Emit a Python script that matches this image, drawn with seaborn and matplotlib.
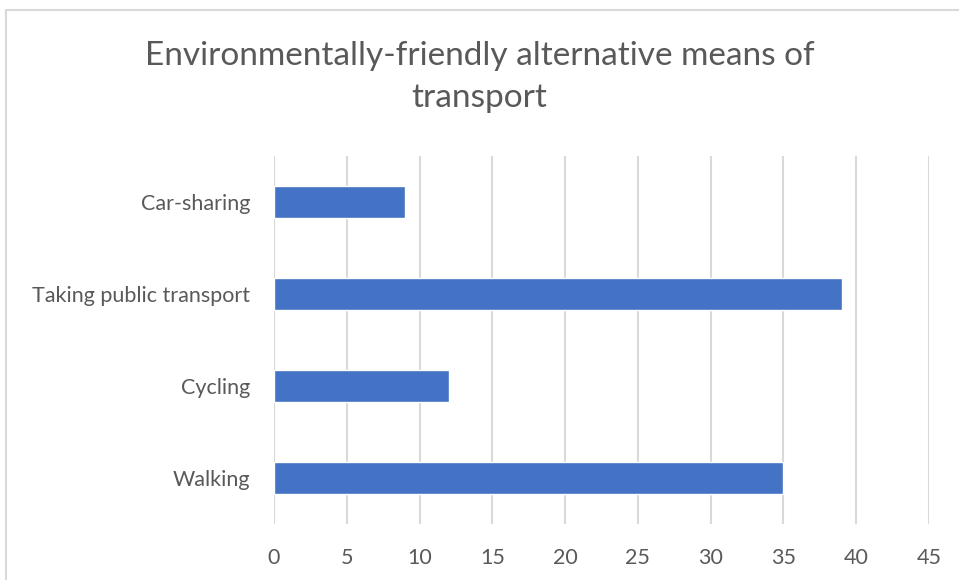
import numpy as np
import pandas as pd
import seaborn as sns
import matplotlib.pyplot as plt
from matplotlib.patches import Rectangle

# chart data
CATEGORIES = ["Car-sharing", "Taking public transport", "Cycling", "Walking"]
VALUES = [9, 39, 12, 35]
X_TICKS = [0, 5, 10, 15, 20, 25, 30, 35, 40, 45]

TITLE = "Environmentally-friendly alternative means of\ntransport"
C_BAR = "#4472C4"
C_GRID = "#D9D9D9"
C_TEXT = "#595959"


def main():
    df = pd.DataFrame({"Category": CATEGORIES, "Value": VALUES})

    sns.set_theme(style="white")
    plt.rcParams["font.family"] = ["Lato", "DejaVu Sans"]

    fig = plt.figure(figsize=(9.59, 5.80), dpi=100)
    ax = fig.add_axes([0.2857, 0.0966, 0.683, 0.6344])

    sns.barplot(
        data=df,
        x="Value",
        y="Category",
        order=CATEGORIES,
        orient="h",
        color=C_BAR,
        saturation=1,
        width=0.34,
        ax=ax,
        zorder=3,
    )

    ax.set_xlim(0, 45)
    ax.set_ylim(len(CATEGORIES) - 0.5, -0.5)
    ax.set_xticks(X_TICKS)
    ax.set_xticklabels([str(t) for t in X_TICKS])
    ax.xaxis.grid(True, color=C_GRID, linewidth=1.5, zorder=0)
    ax.yaxis.grid(False)
    ax.set_axisbelow(True)
    for s in ax.spines.values():
        s.set_visible(False)

    ax.set_xlabel("")
    ax.set_ylabel("")
    ax.tick_params(axis="x", length=0, pad=17, labelsize=15.5, labelcolor=C_TEXT)
    ax.tick_params(axis="y", length=0, pad=17, labelsize=15.5, labelcolor=C_TEXT)

    fig.text(
        0.5, 0.867, TITLE,
        ha="center", va="center",
        fontsize=24, color=C_TEXT, linespacing=1.5,
    )

    # chart area border
    fig.patches.append(Rectangle(
        (0.006, -0.01), 1.2, 1.0 - 0.018 + 0.01,
        transform=fig.transFigure, fill=False,
        edgecolor="#D9D9D9", linewidth=1.5,
    ))

    fig.savefig("out.png", dpi=100)
    plt.close(fig)


if __name__ == "__main__":
    main()
